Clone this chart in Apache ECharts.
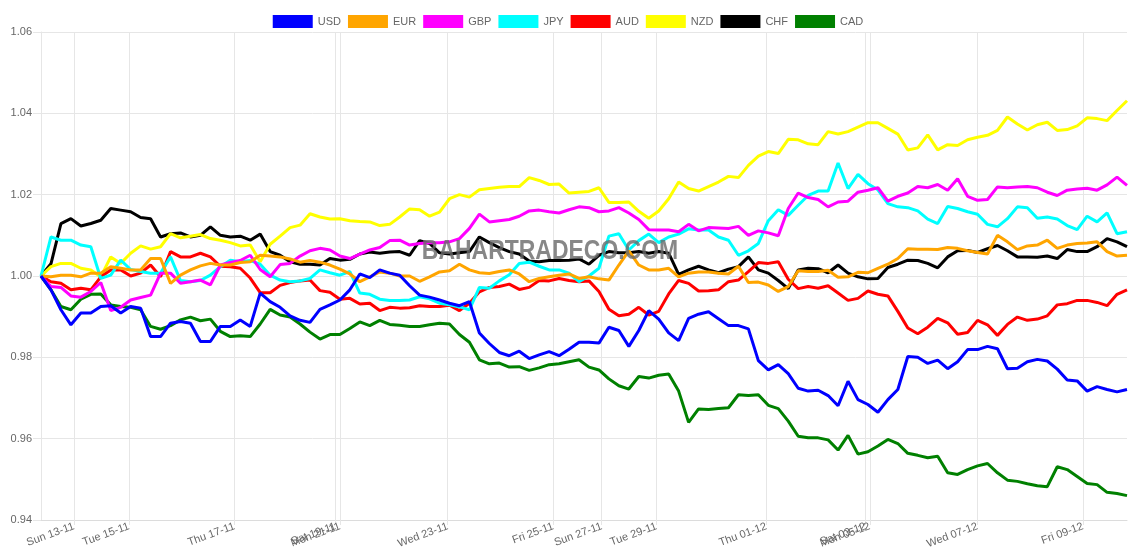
<!DOCTYPE html>
<html>
<head>
<meta charset="utf-8">
<title>Currency strength</title>
<script src="https://cdn.jsdelivr.net/npm/echarts@6/dist/echarts.min.js"></script>
<style>
  html, body { margin: 0; padding: 0; background: #fff; }
  #chart { width: 1136px; height: 553px; }
</style>
</head>
<body>
<div id="chart"></div>
<script>
// currencies and line colours
const currencies = ['USD', 'EUR', 'GBP', 'JPY', 'AUD', 'NZD', 'CHF', 'CAD']
const colors = ['#0000ff', '#ffa500', '#ff00ff', '#00ffff', '#ff0000', '#ffff00', '#000000', '#008000']

// values, one point every ~10px
const usd = [1.000, 0.9966, 0.9917, 0.9880, 0.9909, 0.9909, 0.9925, 0.9927, 0.9909, 0.9925, 0.9921, 0.9851, 0.9851, 0.9884, 0.9888, 0.9884, 0.9839, 0.9839, 0.9876, 0.9876, 0.9892, 0.9876,
  0.9958, 0.9937, 0.9923, 0.9902, 0.9891, 0.9886, 0.9918, 0.9929, 0.9941, 0.9966, 1.0005, 0.9996, 1.0015, 1.0007, 1.0002, 0.9976, 0.9953, 0.9948, 0.9941, 0.9933, 0.9927, 0.9937,
  0.9860, 0.9834, 0.9812, 0.9804, 0.9815, 0.9797, 0.9806, 0.9814, 0.9804, 0.9820, 0.9837, 0.9837, 0.9835, 0.9874, 0.9866, 0.9827, 0.9866, 0.9915, 0.9894, 0.9860, 0.9841, 0.9896,
  0.9906, 0.9912, 0.9895, 0.9878, 0.9878, 0.9870, 0.9792, 0.9769, 0.9782, 0.9760, 0.9724, 0.9717, 0.9719, 0.9706, 0.9681, 0.9741, 0.9696, 0.9684, 0.9665, 0.9696, 0.9721, 0.9802,
  0.9800, 0.9785, 0.9793, 0.9772, 0.9789, 0.9819, 0.9819, 0.9827, 0.9821, 0.9772, 0.9773, 0.9789, 0.9795, 0.9791, 0.9771, 0.9744, 0.9742, 0.9717, 0.9728, 0.9721, 0.9715, 0.9721]

const eur = [1.000, 0.9998, 1.0002, 1.0002, 0.9998, 1.0007, 1.0007, 1.0023, 1.0019, 1.0015, 1.0015, 1.0043, 1.0043, 0.9982, 1.0002, 1.0015, 1.0025, 1.0031, 1.0027, 1.0027, 1.0033, 1.0035,
  1.0051, 1.0049, 1.0047, 1.0042, 1.0034, 1.0038, 1.0034, 1.0027, 1.0017, 1.0005, 0.9986, 0.9998, 1.0010, 1.0007, 1.0000, 1.0000, 0.9987, 0.9998, 1.0010, 1.0013, 1.0029, 1.0015,
  1.0008, 1.0006, 1.0011, 1.0015, 1.0005, 0.9986, 0.9994, 0.9998, 1.0002, 1.0005, 0.9994, 0.9998, 0.9993, 0.9990, 1.0027, 1.0062, 1.0027, 1.0015, 1.0015, 1.0019, 0.9998, 1.0007,
  1.0010, 1.0010, 1.0007, 1.0005, 1.0024, 0.9984, 0.9985, 0.9978, 0.9962, 0.9974, 1.0013, 1.0011, 1.0011, 1.0014, 0.9997, 0.9998, 1.0009, 1.0008, 1.0019, 1.0029, 1.0043, 1.0067,
  1.0066, 1.0066, 1.0065, 1.0070, 1.0068, 1.0062, 1.0058, 1.0054, 1.0100, 1.0084, 1.0065, 1.0074, 1.0076, 1.0088, 1.0068, 1.0076, 1.0080, 1.0081, 1.0084, 1.0060, 1.0049, 1.0051]

const gbp = [1.000, 0.9974, 0.9972, 0.9951, 0.9948, 0.9962, 0.9984, 0.9915, 0.9923, 0.9941, 0.9947, 0.9953, 1.0007, 1.0007, 0.9982, 0.9986, 0.9990, 0.9978, 1.0027, 1.0033, 1.0038, 1.0051,
  1.0016, 0.9998, 1.0028, 1.0031, 1.0049, 1.0062, 1.0068, 1.0064, 1.0049, 1.0043, 1.0054, 1.0064, 1.0070, 1.0087, 1.0088, 1.0076, 1.0080, 1.0082, 1.0082, 1.0084, 1.0092, 1.0117,
  1.0152, 1.0133, 1.0136, 1.0139, 1.0147, 1.0160, 1.0162, 1.0158, 1.0155, 1.0163, 1.0170, 1.0168, 1.0158, 1.0160, 1.0168, 1.0155, 1.0139, 1.0114, 1.0113, 1.0113, 1.0109, 1.0127,
  1.0111, 1.0119, 1.0118, 1.0117, 1.0122, 1.0100, 1.0111, 1.0106, 1.0099, 1.0166, 1.0204, 1.0193, 1.0188, 1.0170, 1.0182, 1.0184, 1.0206, 1.0211, 1.0217, 1.0184, 1.0196, 1.0204,
  1.0220, 1.0217, 1.0225, 1.0211, 1.0239, 1.0196, 1.0186, 1.0188, 1.0219, 1.0217, 1.0219, 1.0220, 1.0217, 1.0206, 1.0198, 1.0211, 1.0214, 1.0216, 1.0211, 1.0224, 1.0243, 1.0223]

const jpy = [1.000, 1.0096, 1.0088, 1.0088, 1.0076, 1.0072, 0.9994, 1.0002, 1.0039, 1.0016, 1.0011, 1.0007, 1.0007, 1.0047, 0.9989, 0.9986, 0.9989, 1.0002, 1.0023, 1.0039, 1.0035, 1.0038,
  1.0029, 1.0002, 0.9990, 0.9986, 0.9988, 0.9994, 1.0015, 1.0008, 1.0002, 1.0011, 0.9958, 0.9955, 0.9943, 0.9940, 0.9940, 0.9941, 0.9949, 0.9944, 0.9933, 0.9929, 0.9924, 0.9917,
  0.9972, 0.9970, 0.9988, 1.0003, 1.0031, 1.0034, 1.0024, 1.0015, 1.0015, 1.0007, 0.9986, 1.0000, 1.0019, 1.0098, 1.0104, 1.0064, 1.0087, 1.0103, 1.0082, 1.0096, 1.0103, 1.0116,
  1.0113, 1.0113, 1.0096, 1.0088, 1.0051, 1.0062, 1.0080, 1.0136, 1.0163, 1.0149, 1.0174, 1.0198, 1.0209, 1.0209, 1.0278, 1.0215, 1.0250, 1.0227, 1.0212, 1.0178, 1.0170, 1.0168,
  1.0160, 1.0140, 1.0129, 1.0171, 1.0166, 1.0158, 1.0152, 1.0127, 1.0121, 1.0141, 1.0170, 1.0168, 1.0142, 1.0145, 1.0140, 1.0124, 1.0114, 1.0147, 1.0133, 1.0155, 1.0104, 1.0109]

const aud = [1.000, 0.9986, 0.9982, 0.9966, 0.9970, 0.9966, 0.9998, 1.0015, 1.0015, 1.0000, 1.0007, 1.0027, 0.9998, 1.0060, 1.0047, 1.0047, 1.0056, 1.0047, 1.0024, 1.0023, 1.0019, 0.9995,
  0.9959, 0.9959, 0.9977, 0.9984, 0.9988, 0.9990, 0.9964, 0.9960, 0.9943, 0.9945, 0.9931, 0.9933, 0.9915, 0.9923, 0.9921, 0.9922, 0.9927, 0.9925, 0.9925, 0.9928, 0.9915, 0.9933,
  0.9961, 0.9972, 0.9974, 0.9980, 0.9967, 0.9972, 0.9989, 0.9988, 0.9994, 0.9989, 0.9986, 0.9988, 0.9962, 0.9918, 0.9902, 0.9906, 0.9923, 0.9904, 0.9913, 0.9956, 0.9989, 0.9982,
  0.9963, 0.9964, 0.9966, 0.9986, 0.9990, 1.0011, 1.0033, 1.0031, 1.0035, 0.9992, 0.9969, 0.9974, 0.9970, 0.9976, 0.9958, 0.9940, 0.9945, 0.9963, 0.9955, 0.9951, 0.9913, 0.9872,
  0.9858, 0.9874, 0.9896, 0.9885, 0.9857, 0.9861, 0.9891, 0.9880, 0.9854, 0.9881, 0.9899, 0.9891, 0.9894, 0.9902, 0.9929, 0.9932, 0.9940, 0.9940, 0.9935, 0.9927, 0.9955, 0.9966]

const nzd = [1.000, 1.0023, 1.0031, 1.0031, 1.0019, 1.0015, 0.9998, 1.0047, 1.0031, 1.0056, 1.0074, 1.0066, 1.0072, 1.0104, 1.0094, 1.0098, 1.0102, 1.0092, 1.0088, 1.0082, 1.0074, 1.0076,
  1.0035, 1.0078, 1.0098, 1.0119, 1.0125, 1.0153, 1.0145, 1.0140, 1.0141, 1.0136, 1.0134, 1.0133, 1.0124, 1.0127, 1.0145, 1.0165, 1.0163, 1.0147, 1.0157, 1.0190, 1.0200, 1.0194,
  1.0212, 1.0215, 1.0218, 1.0220, 1.0220, 1.0242, 1.0235, 1.0225, 1.0226, 1.0204, 1.0206, 1.0208, 1.0217, 1.0181, 1.0181, 1.0182, 1.0159, 1.0142, 1.0160, 1.0190, 1.0231, 1.0215,
  1.0209, 1.0220, 1.0231, 1.0245, 1.0242, 1.0272, 1.0295, 1.0306, 1.0301, 1.0336, 1.0335, 1.0325, 1.0323, 1.0355, 1.0349, 1.0355, 1.0366, 1.0377, 1.0377, 1.0363, 1.0349, 1.0310,
  1.0315, 1.0347, 1.0310, 1.0323, 1.0321, 1.0335, 1.0341, 1.0346, 1.0358, 1.0391, 1.0374, 1.0359, 1.0372, 1.0378, 1.0358, 1.0360, 1.0369, 1.0389, 1.0387, 1.0382, 1.0407, 1.0431]

const chf = [1.000, 1.0030, 1.0129, 1.0141, 1.0123, 1.0129, 1.0137, 1.0166, 1.0162, 1.0158, 1.0144, 1.0141, 1.0096, 1.0104, 1.0106, 1.0096, 1.0100, 1.0121, 1.0100, 1.0096, 1.0098, 1.0088,
  1.0103, 1.0060, 1.0051, 1.0035, 1.0029, 1.0029, 1.0027, 1.0043, 1.0039, 1.0041, 1.0054, 1.0059, 1.0056, 1.0059, 1.0060, 1.0051, 1.0087, 1.0080, 1.0057, 1.0054, 1.0057, 1.0060,
  1.0096, 1.0082, 1.0070, 1.0060, 1.0054, 1.0037, 1.0035, 1.0038, 1.0038, 1.0039, 1.0042, 1.0029, 1.0051, 1.0060, 1.0057, 1.0057, 1.0060, 1.0056, 1.0060, 1.0056, 1.0004, 1.0015,
  1.0024, 1.0015, 1.0008, 1.0017, 1.0023, 1.0047, 1.0015, 1.0007, 0.9989, 0.9969, 1.0015, 1.0019, 1.0018, 1.0008, 1.0027, 1.0007, 0.9998, 0.9993, 0.9994, 1.0021, 1.0029, 1.0039,
  1.0038, 1.0031, 1.0020, 1.0047, 1.0062, 1.0063, 1.0058, 1.0067, 1.0075, 1.0062, 1.0047, 1.0047, 1.0046, 1.0049, 1.0043, 1.0065, 1.0060, 1.0060, 1.0072, 1.0092, 1.0084, 1.0072]

const cad = [1.000, 0.9966, 0.9925, 0.9917, 0.9943, 0.9955, 0.9956, 0.9929, 0.9925, 0.9923, 0.9917, 0.9876, 0.9869, 0.9878, 0.9892, 0.9899, 0.9890, 0.9894, 0.9864, 0.9851, 0.9853, 0.9851,
  0.9882, 0.9918, 0.9904, 0.9899, 0.9882, 0.9862, 0.9845, 0.9856, 0.9856, 0.9871, 0.9887, 0.9878, 0.9891, 0.9881, 0.9879, 0.9876, 0.9876, 0.9880, 0.9884, 0.9882, 0.9856, 0.9837,
  0.9794, 0.9784, 0.9786, 0.9776, 0.9777, 0.9768, 0.9774, 0.9782, 0.9784, 0.9789, 0.9794, 0.9776, 0.9769, 0.9747, 0.9730, 0.9722, 0.9753, 0.9749, 0.9756, 0.9759, 0.9717, 0.9640,
  0.9673, 0.9672, 0.9674, 0.9676, 0.9708, 0.9706, 0.9708, 0.9682, 0.9674, 0.9643, 0.9606, 0.9602, 0.9602, 0.9597, 0.9572, 0.9608, 0.9562, 0.9568, 0.9582, 0.9598, 0.9588, 0.9564,
  0.9559, 0.9553, 0.9557, 0.9516, 0.9512, 0.9524, 0.9533, 0.9539, 0.9516, 0.9498, 0.9495, 0.9489, 0.9484, 0.9482, 0.9531, 0.9524, 0.9507, 0.9490, 0.9487, 0.9468, 0.9465, 0.9460]

// date ticks; the time axis skips most weekend hours so ticks sit on slots
const tickLabels = ['Sun 13-11', 'Tue 15-11', 'Thu 17-11', 'Sat 19-11', 'Mon 21-11', 'Wed 23-11', 'Fri 25-11',
  'Sun 27-11', 'Tue 29-11', 'Thu 01-12', 'Sat 03-12', 'Mon 05-12', 'Wed 07-12', 'Fri 09-12']
const tickSlots = [15, 40, 88, 134, 136, 185, 233, 255, 280, 330, 375, 377, 426, 474]
const slotCount = 495

const yTicks = [0.94, 0.96, 0.98, 1.00, 1.02, 1.04, 1.06]

const seriesValues = [usd, eur, gbp, jpy, aud, nzd, chf, cad]

const slotNames = []
for (let i = 0; i < slotCount; i++) slotNames.push('')
tickSlots.forEach((s, k) => { slotNames[s] = tickLabels[k] })
const pointNames = usd.map((v, i) => String(i))

const isTick = (index, value) => value !== ''
const gridColor = '#e6e6e6'

const chart = echarts.init(document.getElementById('chart'))

const option = {
  animation: false,
  backgroundColor: '#fff',
  legend: {
    data: currencies,
    top: 10,
    left: 'center',
    icon: 'rect',
    itemWidth: 40,
    itemHeight: 13,
    itemGap: 7,
    textStyle: { color: '#666', fontSize: 11, fontFamily: 'Liberation Sans, Arial, sans-serif' }
  },
  grid: { left: 41, right: 9, top: 32, bottom: 33, containLabel: false },
  xAxis: [
    {
      type: 'category',
      data: slotNames,
      boundaryGap: false,
      axisLine: { show: true, lineStyle: { color: '#dcdcdc' } },
      axisTick: { show: true, interval: isTick, length: 5, lineStyle: { color: gridColor } },
      splitLine: { show: true, interval: isTick, lineStyle: { color: gridColor } },
      axisLabel: {
        interval: isTick,
        rotate: 20,
        margin: 6,
        color: '#666',
        fontSize: 11,
        fontFamily: 'Liberation Sans, Arial, sans-serif'
      }
    },
    {
      type: 'category',
      data: pointNames,
      boundaryGap: false,
      show: false
    }
  ],
  yAxis: {
    type: 'value',
    min: yTicks[0],
    max: yTicks[yTicks.length - 1],
    interval: 0.02,
    axisLine: { show: true, lineStyle: { color: gridColor } },
    axisTick: { show: true, length: 8, lineStyle: { color: gridColor } },
    splitLine: { show: true, lineStyle: { color: gridColor } },
    axisLabel: {
      margin: 9,
      color: '#666',
      fontSize: 11,
      fontFamily: 'Liberation Sans, Arial, sans-serif',
      formatter: v => v.toFixed(2)
    }
  },
  graphic: [
    {
      // watermark, drawn over the lines
      type: 'text',
      x: 550,
      y: 251,
      scaleX: 0.82,
      z: 100,
      style: {
        text: 'BAHARTRADECO.COM',
        fontSize: 28,
        fontWeight: 'bold',
        fontFamily: 'Liberation Sans, Arial, sans-serif',
        fill: 'rgba(105,105,105,0.8)',
        textAlign: 'center',
        textVerticalAlign: 'middle'
      }
    }
  ],
  series: currencies.map((name, k) => ({
    name: name,
    type: 'line',
    xAxisIndex: 1,
    data: seriesValues[k],
    symbol: 'none',
    z: 10 - k,
    lineStyle: { width: 3, color: colors[k] },
    itemStyle: { color: colors[k] }
  }))
}

chart.setOption(option)
</script>
</body>
</html>
